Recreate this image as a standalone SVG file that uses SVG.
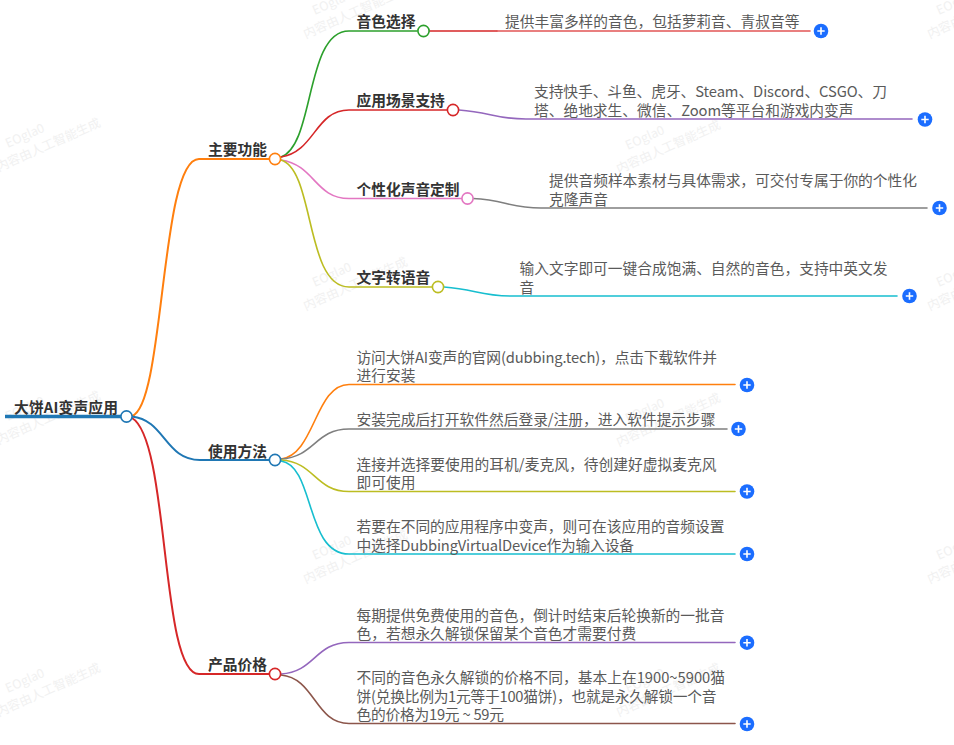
<svg xmlns="http://www.w3.org/2000/svg" width="954" height="745" viewBox="0 0 954 745">
<style>
text{font-family:"Noto Sans CJK SC","Noto Sans",sans-serif;font-size:14.72px}
.b{font-weight:700;fill:#333}
.t{fill:#5a5a5a}
.c{fill:none;stroke-width:1.6;stroke-linecap:round}
.d{fill:#fff;stroke-width:1.6}
text.w{font-size:12.5px;fill:#f1f1f1}
.p{fill:#1b6dff}
.q{stroke:#fff;stroke-width:1.6;fill:none}
</style>
<defs>
<g id="wm"><text class="w" x="18" y="-14">EOgla0</text><text class="w" x="0" y="4">内容由人工智能生成</text></g>
<g id="plus"><circle class="p" r="7.3"/><path class="q" d="M-3.7 0H3.7M0-3.7V3.7"/></g>
</defs>
<g id="watermarks">
<use href="#wm" transform="translate(-3 168) rotate(-24)"/>
<use href="#wm" transform="translate(-3 441) rotate(-24)"/>
<use href="#wm" transform="translate(-3 713) rotate(-24)"/>
<use href="#wm" transform="translate(304 35) rotate(-24)"/>
<use href="#wm" transform="translate(304 307) rotate(-24)"/>
<use href="#wm" transform="translate(304 580) rotate(-24)"/>
<use href="#wm" transform="translate(617 170) rotate(-24)"/>
<use href="#wm" transform="translate(617 443) rotate(-24)"/>
<use href="#wm" transform="translate(617 713) rotate(-24)"/>
<use href="#wm" transform="translate(928 35) rotate(-24)"/>
<use href="#wm" transform="translate(928 307) rotate(-24)"/>
<use href="#wm" transform="translate(928 580) rotate(-24)"/>
</g>
<g id="connectors">
<path class="c" stroke="#1f77b4" style="stroke-width:3.4;stroke-linecap:butt" d="M5 416.5H121"/>
<path class="c" stroke="#ff7f0e" style="stroke-width:2" d="M132 416C165 405 160 159 199 159H269"/>
<path class="c" stroke="#1f77b4" style="stroke-width:2" d="M132 416.5C165 420 165 460 200 460H269"/>
<path class="c" stroke="#d62728" style="stroke-width:2" d="M132 418C170 440 160 674 199 674H269"/>
<path class="c" stroke="#2ca02c" d="M281 157C315 145 305 31 349 31H417"/>
<path class="c" stroke="#d62728" d="M281 157C315 152 315 110 349 110H447"/>
<path class="c" stroke="#e377c2" d="M281 160C315 165 315 198.500 349 198.500H462"/>
<path class="c" stroke="#bcbd22" d="M281 160C315 170 305 287 349 287H432"/>
<path class="c" stroke="#d62728" d="M429 31H497"/>
<path class="c" stroke="#e25555" d="M497 31H810"/>
<path class="c" stroke="#9467bd" d="M459 110C490 112 495 119 526 119H912"/>
<path class="c" stroke="#7f7f7f" d="M473 198.500C505 200 510 208 541 208H927"/>
<path class="c" stroke="#17becf" d="M444 287C475 289 480 296 511 296H897"/>
<path class="c" stroke="#ff7f0e" d="M281 459C315 455 315 384.500 349 384.500H735"/>
<path class="c" stroke="#7f7f7f" d="M281 459C315 457 315 429 349 429H727"/>
<path class="c" stroke="#bcbd22" d="M281 460C315 462 315 491.500 349 491.500H735"/>
<path class="c" stroke="#17becf" d="M281 461C315 466 305 554 349 554H735"/>
<path class="c" stroke="#9467bd" d="M281 674C315 672 315 642.500 349 642.500H735"/>
<path class="c" stroke="#8c564b" d="M281 675C315 678 315 723.500 349 723.500H735"/>
</g>
<g id="n-root"><text class="b" x="14" y="413" textLength="104">大饼AI变声应用</text><circle class="d" cx="126.500" cy="416.500" r="5.600" stroke="#1f77b4"/></g>
<g id="n-main"><text class="b" x="208" y="155">主要功能</text><circle class="d" cx="275" cy="159" r="5.600" stroke="#ff7f0e"/></g>
<g id="n-use"><text class="b" x="208" y="457">使用方法</text><circle class="d" cx="275" cy="460" r="5.600" stroke="#1f77b4"/></g>
<g id="n-price"><text class="b" x="208" y="670">产品价格</text><circle class="d" cx="275" cy="674" r="5.600" stroke="#d62728"/></g>
<g id="n-voice"><text class="b" x="356.500" y="27">音色选择</text><circle class="d" cx="423.500" cy="31" r="5.600" stroke="#2ca02c"/></g>
<g id="n-scene"><text class="b" x="356.500" y="106">应用场景支持</text><circle class="d" cx="453" cy="110" r="5.600" stroke="#d62728"/></g>
<g id="n-custom"><text class="b" x="356.500" y="195">个性化声音定制</text><circle class="d" cx="467.500" cy="198.500" r="5.600" stroke="#e377c2"/></g>
<g id="n-tts"><text class="b" x="356.500" y="283">文字转语音</text><circle class="d" cx="438" cy="287" r="5.600" stroke="#bcbd22"/></g>
<g id="l-voice"><text class="t" x="505" y="27">提供丰富多样的音色，包括萝莉音、青叔音等</text><use href="#plus" x="821" y="31"/></g>
<g id="l-scene"><text class="t" x="534" y="97" textLength="353">支持快手、斗鱼、虎牙、Steam、Discord、CSGO、刀</text><text class="t" x="534" y="116" textLength="319.500">塔、绝地求生、微信、Zoom等平台和游戏内变声</text><use href="#plus" x="925" y="119.500"/></g>
<g id="l-custom"><text class="t" x="549" y="186">提供音频样本素材与具体需求，可交付专属于你的个性化</text><text class="t" x="549" y="205">克隆声音</text><use href="#plus" x="939.500" y="208"/></g>
<g id="l-tts"><text class="t" x="519.500" y="274">输入文字即可一键合成饱满、自然的音色，支持中英文发</text><text class="t" x="519.500" y="293">音</text><use href="#plus" x="909.500" y="296"/></g>
<g id="l-u1"><text class="t" x="356.500" y="362.500" textLength="360.500">访问大饼AI变声的官网(dubbing.tech)，点击下载软件并</text><text class="t" x="356.500" y="381">进行安装</text><use href="#plus" x="747" y="385"/></g>
<g id="l-u2"><text class="t" x="356.500" y="425">安装完成后打开软件然后登录/注册，进入软件提示步骤</text><use href="#plus" x="738.500" y="429"/></g>
<g id="l-u3"><text class="t" x="356.500" y="470" textLength="360">连接并选择要使用的耳机/麦克风，待创建好虚拟麦克风</text><text class="t" x="356.500" y="488">即可使用</text><use href="#plus" x="747" y="491.500"/></g>
<g id="l-u4"><text class="t" x="356.500" y="532">若要在不同的应用程序中变声，则可在该应用的音频设置</text><text class="t" x="356.500" y="551" textLength="277.500">中选择DubbingVirtualDevice作为输入设备</text><use href="#plus" x="747" y="554"/></g>
<g id="l-p1"><text class="t" x="356.500" y="620.500">每期提供免费使用的音色，倒计时结束后轮换新的一批音</text><text class="t" x="356.500" y="639">色，若想永久解锁保留某个音色才需要付费</text><use href="#plus" x="747" y="642.700"/></g>
<g id="l-p2"><text class="t" x="356.500" y="683" textLength="368.500">不同的音色永久解锁的价格不同，基本上在1900~5900猫</text><text class="t" x="356.500" y="701.500" textLength="360">饼(兑换比例为1元等于100猫饼)，也就是永久解锁一个音</text><text class="t" x="356.500" y="720" textLength="147.500">色的价格为19元 ~ 59元</text><use href="#plus" x="747" y="724"/></g>
</svg>
